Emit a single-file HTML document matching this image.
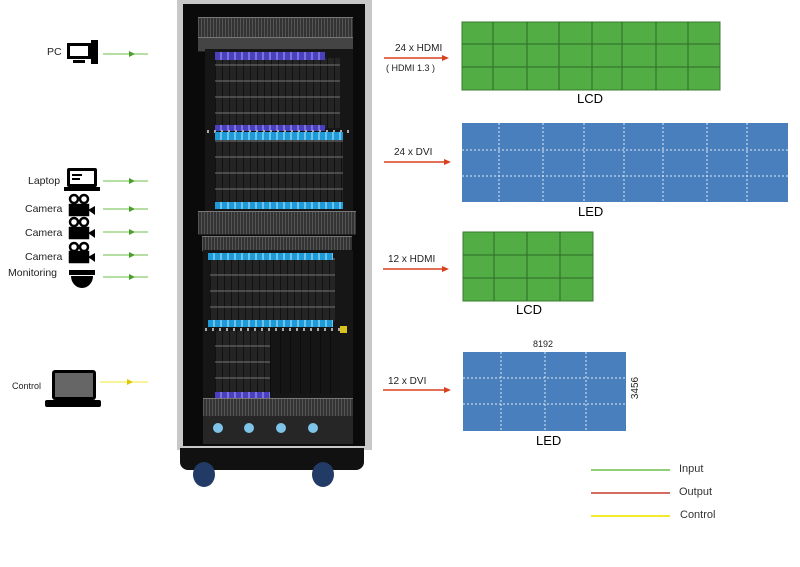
<!DOCTYPE html>
<html><head><meta charset="utf-8"><style>
body{margin:0;background:#fff;}
#c{position:relative;width:800px;height:567px;overflow:hidden;font-family:"Liberation Sans",sans-serif;background:#fff;}
.a{position:absolute;}
.t{position:absolute;font-size:10px;color:#222;white-space:nowrap;}
.grille{background:repeating-linear-gradient(90deg,#555 0 1px,#333 1px 3px),#3a3a3a;border-top:1px solid #777;border-bottom:1px solid #222;}
.cards{background:repeating-linear-gradient(0deg,transparent 0 14px,rgba(150,150,150,.35) 14px 16px),repeating-linear-gradient(90deg,#111 0 1px,#242424 1px 7px);}
.pur{background:repeating-linear-gradient(90deg,#4a3fbf 0 5px,#7b74d8 5px 7px);}
.blu{background:repeating-linear-gradient(90deg,#1f9ad8 0 5px,#6cc4ee 5px 7px);}
.dots{background:repeating-linear-gradient(90deg,#aaa 0 2px,transparent 2px 7px);}
</style></head><body><div id="c">

<div class="a" style="left:177px;top:0;width:195px;height:450px;background:#c8c8c8;"></div>
<div class="a" style="left:183px;top:4px;width:182px;height:442px;background:#0a0a0a;"></div>
<div class="a grille" style="left:198px;top:17px;width:155px;height:20px;"></div>
<div class="a grille" style="left:198px;top:37px;width:155px;height:13px;background:#444;"></div>
<div class="a" style="left:205px;top:49px;width:148px;height:162px;background:#161616;"></div>
<div class="a cards" style="left:215px;top:58px;width:125px;height:70px;"></div>
<div class="a pur" style="left:215px;top:52px;width:110px;height:8px;"></div>
<div class="a pur" style="left:215px;top:125px;width:110px;height:6px;"></div>
<div class="a dots" style="left:207px;top:130px;width:144px;height:3px;"></div>
<div class="a cards" style="left:215px;top:138px;width:128px;height:66px;"></div>
<div class="a blu" style="left:215px;top:132px;width:128px;height:8px;"></div>
<div class="a blu" style="left:215px;top:202px;width:128px;height:7px;"></div>
<div class="a grille" style="left:198px;top:211px;width:158px;height:22px;"></div>
<div class="a grille" style="left:202px;top:236px;width:150px;height:14px;"></div>
<div class="a" style="left:203px;top:250px;width:150px;height:148px;background:#161616;"></div>
<div class="a cards" style="left:210px;top:258px;width:125px;height:64px;"></div>
<div class="a blu" style="left:208px;top:253px;width:125px;height:7px;"></div>
<div class="a blu" style="left:208px;top:320px;width:125px;height:7px;"></div>
<div class="a dots" style="left:205px;top:328px;width:145px;height:3px;"></div>
<div class="a cards" style="left:215px;top:331px;width:55px;height:62px;"></div>
<div class="a" style="left:270px;top:331px;width:70px;height:62px;background:repeating-linear-gradient(90deg,#0c0c0c 0 1px,#151515 1px 10px);"></div>
<div class="a pur" style="left:215px;top:392px;width:55px;height:6px;"></div>
<div class="a" style="left:340px;top:326px;width:7px;height:7px;background:#d8c21c;"></div>
<div class="a grille" style="left:203px;top:398px;width:150px;height:18px;"></div>
<div class="a" style="left:203px;top:416px;width:150px;height:28px;background:#262626;"></div>
<div class="a" style="left:213px;top:423px;width:10px;height:10px;background:#7fc3e8;border-radius:50%;"></div>
<div class="a" style="left:244px;top:423px;width:10px;height:10px;background:#7fc3e8;border-radius:50%;"></div>
<div class="a" style="left:276px;top:423px;width:10px;height:10px;background:#7fc3e8;border-radius:50%;"></div>
<div class="a" style="left:308px;top:423px;width:10px;height:10px;background:#7fc3e8;border-radius:50%;"></div>
<div class="a" style="left:180px;top:448px;width:184px;height:22px;background:#111;border-radius:0 0 8px 8px;"></div>
<div class="a" style="left:193px;top:462px;width:22px;height:25px;background:#223a66;border-radius:50%;"></div>
<div class="a" style="left:312px;top:462px;width:22px;height:25px;background:#223a66;border-radius:50%;"></div>

<svg class="a" style="left:0;top:0" width="180" height="420">
<g fill="#000">
<rect x="67" y="43" width="24" height="16"/><rect x="70" y="46" width="18" height="10" fill="#fff"/><rect x="73" y="60" width="12" height="3"/><rect x="91" y="40" width="7" height="24"/>
<rect x="67" y="168" width="30" height="19" rx="2"/><rect x="70" y="171" width="24" height="13" fill="#fff"/><rect x="72" y="174" width="10" height="2"/><rect x="72" y="178" width="8" height="2"/><rect x="64" y="187" width="36" height="4"/>
</g>
<g fill="none" stroke="#000" stroke-width="2.5">
<circle cx="74" cy="199" r="4"/><circle cx="84" cy="199" r="4"/><rect x="70" y="205" width="18" height="10" fill="#000"/>
<circle cx="74" cy="222" r="4"/><circle cx="84" cy="222" r="4"/><rect x="70" y="228" width="18" height="10" fill="#000"/>
<circle cx="74" cy="247" r="4"/><circle cx="84" cy="247" r="4"/><rect x="70" y="252" width="18" height="10" fill="#000"/>
</g>
<g fill="#000"><polygon points="88,210 95,206 95,215"/><polygon points="88,233 95,229 95,238"/><polygon points="88,257 95,253 95,262"/>
<rect x="69" y="270" width="26" height="5"/><path d="M71,276 A11,12 0 0 0 93,276 Z"/>
<rect x="52" y="370" width="44" height="30" rx="3"/><rect x="55" y="373" width="38" height="24" fill="#666"/><rect x="45" y="400" width="56" height="7" rx="2"/></g>
<g stroke="#6cbf4a" stroke-width="1"><line x1="103" y1="54" x2="148" y2="54"/><line x1="103" y1="181" x2="148" y2="181"/><line x1="103" y1="209" x2="148" y2="209"/><line x1="103" y1="232" x2="148" y2="232"/><line x1="103" y1="255" x2="148" y2="255"/><line x1="103" y1="277" x2="148" y2="277"/></g>
<g fill="#4a9f2a"><polygon points="129,51 135,54 129,57"/><polygon points="129,178 135,181 129,184"/><polygon points="129,206 135,209 129,212"/><polygon points="129,229 135,232 129,235"/><polygon points="129,252 135,255 129,258"/><polygon points="129,274 135,277 129,280"/></g>
<line x1="100" y1="382" x2="148" y2="382" stroke="#f4e830"/><polygon points="127,379 133,382 127,385" fill="#e0c800"/>
</svg>
<div class="t" style="left:47px;top:46px;font-size:10.5px;">PC</div>
<div class="t" style="left:28px;top:175px;font-size:10.5px;">Laptop</div>
<div class="t" style="left:25px;top:203px;font-size:10.5px;">Camera</div>
<div class="t" style="left:25px;top:227px;font-size:10.5px;">Camera</div>
<div class="t" style="left:25px;top:251px;font-size:10.5px;">Camera</div>
<div class="t" style="left:8px;top:267px;font-size:10.5px;">Monitoring</div>
<div class="t" style="left:12px;top:381px;font-size:9px;">Control</div>

<svg class="a" style="left:370px;top:0" width="430" height="567">
<g stroke="#d9401e" stroke-width="1.5" fill="#d9401e">
<line x1="14" y1="58" x2="74" y2="58"/><polygon points="72,55 79,58 72,61" stroke="none"/>
<line x1="14" y1="162" x2="76" y2="162"/><polygon points="74,159 81,162 74,165" stroke="none"/>
<line x1="13" y1="269" x2="74" y2="269"/><polygon points="72,266 79,269 72,272" stroke="none"/>
<line x1="13" y1="390" x2="76" y2="390"/><polygon points="74,387 81,390 74,393" stroke="none"/>
</g>
<rect x="92" y="22" width="258" height="68" fill="#52ad45" stroke="#3a7a30"/>
<g stroke="#2f6b28" stroke-width="1"><line x1="123" y1="22" x2="123" y2="90"/><line x1="157" y1="22" x2="157" y2="90"/><line x1="189" y1="22" x2="189" y2="90"/><line x1="222" y1="22" x2="222" y2="90"/><line x1="252" y1="22" x2="252" y2="90"/><line x1="286" y1="22" x2="286" y2="90"/><line x1="318" y1="22" x2="318" y2="90"/><line x1="92" y1="44" x2="350" y2="44"/><line x1="92" y1="67" x2="350" y2="67"/></g>
<rect x="92" y="123" width="326" height="79" fill="#4a7fbe"/>
<g stroke="#dfe8f4" stroke-width="1" stroke-dasharray="2,2"><line x1="129" y1="123" x2="129" y2="202"/><line x1="173" y1="123" x2="173" y2="202"/><line x1="214" y1="123" x2="214" y2="202"/><line x1="254" y1="123" x2="254" y2="202"/><line x1="293" y1="123" x2="293" y2="202"/><line x1="337" y1="123" x2="337" y2="202"/><line x1="377" y1="123" x2="377" y2="202"/><line x1="92" y1="150" x2="418" y2="150"/><line x1="92" y1="176" x2="418" y2="176"/></g>
<rect x="93" y="232" width="130" height="69" fill="#52ad45" stroke="#3a7a30"/>
<g stroke="#2f6b28"><line x1="124" y1="232" x2="124" y2="301"/><line x1="157" y1="232" x2="157" y2="301"/><line x1="190" y1="232" x2="190" y2="301"/><line x1="93" y1="255" x2="223" y2="255"/><line x1="93" y1="278" x2="223" y2="278"/></g>
<rect x="93" y="352" width="163" height="79" fill="#4a7fbe"/>
<g stroke="#dfe8f4" stroke-dasharray="2,2"><line x1="131" y1="352" x2="131" y2="431"/><line x1="175" y1="352" x2="175" y2="431"/><line x1="216" y1="352" x2="216" y2="431"/><line x1="93" y1="378" x2="256" y2="378"/><line x1="93" y1="404" x2="256" y2="404"/></g>
<line x1="221" y1="470" x2="300" y2="470" stroke="#6cbf4a" stroke-width="1.5"/>
<line x1="221" y1="493" x2="300" y2="493" stroke="#c83a2a" stroke-width="1.5"/>
<line x1="221" y1="516" x2="300" y2="516" stroke="#f4e830" stroke-width="2"/>
<text x="268" y="388" font-size="10" font-family="Liberation Sans" transform="rotate(-90 268 388)" text-anchor="middle" fill="#222">3456</text>
</svg>
<div class="t" style="left:395px;top:43px;">24 x HDMI</div>
<div class="t" style="left:386px;top:63px;font-size:9px;">( HDMI 1.3 )</div>
<div class="t" style="left:394px;top:147px;">24 x DVI</div>
<div class="t" style="left:388px;top:254px;">12 x HDMI</div>
<div class="t" style="left:388px;top:376px;">12 x DVI</div>
<div class="t" style="left:577px;top:91px;font-size:13px;color:#000;">LCD</div>
<div class="t" style="left:578px;top:204px;font-size:13px;color:#000;">LED</div>
<div class="t" style="left:516px;top:302px;font-size:13px;color:#000;">LCD</div>
<div class="t" style="left:536px;top:433px;font-size:13px;color:#000;">LED</div>
<div class="t" style="left:533px;top:339px;font-size:9px;">8192</div>
<div class="t" style="left:679px;top:463px;font-size:11px;color:#333;">Input</div>
<div class="t" style="left:679px;top:486px;font-size:11px;color:#333;">Output</div>
<div class="t" style="left:680px;top:509px;font-size:11px;color:#333;">Control</div>
</div></body></html>
